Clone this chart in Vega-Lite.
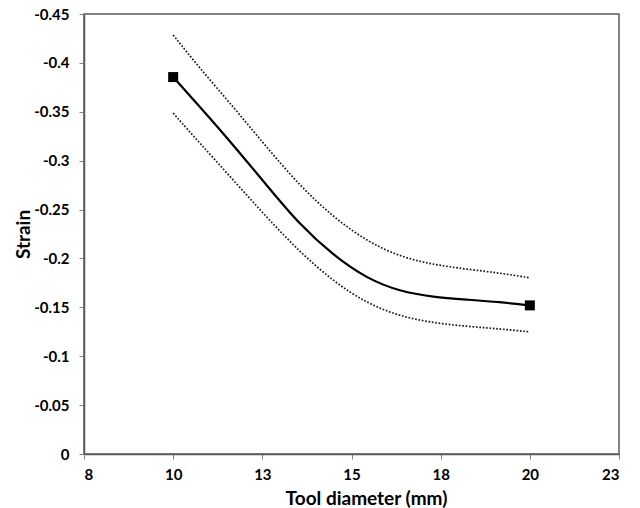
{
  "$schema": "https://vega.github.io/schema/vega-lite/v6.json",
  "width": 535,
  "height": 440,
  "autosize": {"type": "none"},
  "padding": {"left": 84, "top": 14, "right": 21, "bottom": 54},
  "background": "white",
  "config": {
    "view": {"stroke": "#595959", "strokeWidth": 1.5},
    "font": "Lato",
    "axis": {
      "grid": false,
      "domainColor": "#595959",
      "domainWidth": 1.5,
      "tickColor": "#808080",
      "tickSize": 5,
      "labelFont": "Lato",
      "labelFontWeight": "bold",
      "labelFontSize": 15,
      "labelColor": "#000000",
      "titleFont": "Lato",
      "titleFontWeight": "bold",
      "titleFontSize": 19,
      "titleColor": "#000000"
    }
  },
  "datasets": {
    "curves": [
      {"diameter": 10.00, "strain": -0.3855, "series": "fit"},
      {"diameter": 10.75, "strain": -0.3551, "series": "fit"},
      {"diameter": 11.69, "strain": -0.3159, "series": "fit"},
      {"diameter": 12.62, "strain": -0.2749, "series": "fit"},
      {"diameter": 13.56, "strain": -0.2340, "series": "fit"},
      {"diameter": 14.49, "strain": -0.2032, "series": "fit"},
      {"diameter": 15.43, "strain": -0.1794, "series": "fit"},
      {"diameter": 16.36, "strain": -0.1662, "series": "fit"},
      {"diameter": 17.29, "strain": -0.1605, "series": "fit"},
      {"diameter": 18.23, "strain": -0.1579, "series": "fit"},
      {"diameter": 19.16, "strain": -0.1554, "series": "fit"},
      {"diameter": 20.00, "strain": -0.1520, "series": "fit"},
      {"diameter": 10.00, "strain": -0.4285, "series": "upper"},
      {"diameter": 10.75, "strain": -0.3944, "series": "upper"},
      {"diameter": 11.69, "strain": -0.3548, "series": "upper"},
      {"diameter": 12.62, "strain": -0.3138, "series": "upper"},
      {"diameter": 13.56, "strain": -0.2740, "series": "upper"},
      {"diameter": 14.49, "strain": -0.2422, "series": "upper"},
      {"diameter": 15.43, "strain": -0.2176, "series": "upper"},
      {"diameter": 16.36, "strain": -0.2017, "series": "upper"},
      {"diameter": 17.29, "strain": -0.1937, "series": "upper"},
      {"diameter": 18.23, "strain": -0.1890, "series": "upper"},
      {"diameter": 19.16, "strain": -0.1851, "series": "upper"},
      {"diameter": 20.00, "strain": -0.1802, "series": "upper"},
      {"diameter": 10.00, "strain": -0.3486, "series": "lower"},
      {"diameter": 10.75, "strain": -0.3178, "series": "lower"},
      {"diameter": 11.69, "strain": -0.2800, "series": "lower"},
      {"diameter": 12.62, "strain": -0.2421, "series": "lower"},
      {"diameter": 13.56, "strain": -0.2063, "series": "lower"},
      {"diameter": 14.49, "strain": -0.1766, "series": "lower"},
      {"diameter": 15.43, "strain": -0.1541, "series": "lower"},
      {"diameter": 16.36, "strain": -0.1408, "series": "lower"},
      {"diameter": 17.29, "strain": -0.1341, "series": "lower"},
      {"diameter": 18.23, "strain": -0.1305, "series": "lower"},
      {"diameter": 19.16, "strain": -0.1280, "series": "lower"},
      {"diameter": 20.00, "strain": -0.1249, "series": "lower"}
    ],
    "measured": [
      {"diameter": 10, "strain": -0.3855},
      {"diameter": 20, "strain": -0.1520}
    ]
  },
  "encoding": {
    "x": {
      "field": "diameter",
      "type": "quantitative",
      "scale": {"domain": [7.5, 22.5], "nice": false, "zero": false},
      "axis": {
        "title": "Tool diameter (mm)",
        "values": [7.5, 10, 12.5, 15, 17.5, 20, 22.5],
        "labelExpr": "format(round(datum.value), 'd')",
        "labelPadding": 8,
        "titleX": 282,
        "titleY": 50,
        "titleBaseline": "alphabetic"
      }
    },
    "y": {
      "field": "strain",
      "type": "quantitative",
      "scale": {"domain": [-0.45, 0], "nice": false, "zero": false, "reverse": true},
      "axis": {
        "title": "Strain",
        "values": [0, -0.05, -0.1, -0.15, -0.2, -0.25, -0.3, -0.35, -0.4, -0.45],
        "labelExpr": "datum.value == 0 ? '0' : '-' + format(-datum.value, '.2~f')",
        "labelPadding": 10,
        "titleX": -55,
        "titleY": 220,
        "titleBaseline": "alphabetic"
      }
    }
  },
  "layer": [
    {
      "data": {"name": "curves"},
      "transform": [{"filter": "datum.series != 'fit'"}],
      "mark": {
        "type": "line",
        "interpolate": "basis",
        "color": "#1a1a1a",
        "strokeWidth": 1.7,
        "strokeDash": [1.7, 1.7]
      },
      "encoding": {"detail": {"field": "series"}}
    },
    {
      "data": {"name": "curves"},
      "transform": [{"filter": "datum.series == 'fit'"}],
      "mark": {
        "type": "line",
        "interpolate": "basis",
        "color": "#000000",
        "strokeWidth": 2.2
      },
      "encoding": {}
    },
    {
      "data": {"name": "measured"},
      "mark": {
        "type": "point",
        "shape": "square",
        "filled": true,
        "size": 100,
        "color": "#000000",
        "opacity": 1
      },
      "encoding": {}
    }
  ]
}
